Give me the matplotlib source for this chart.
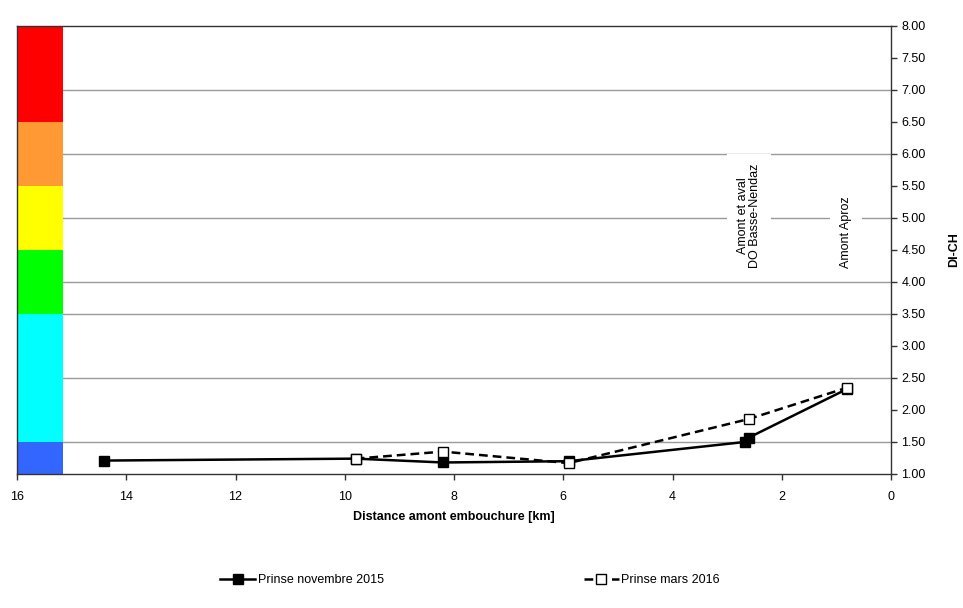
import matplotlib
matplotlib.use("Agg")
import matplotlib.pyplot as plt
from matplotlib import font_manager

fams = [f.name for f in font_manager.fontManager.ttflist]
base = 'Liberation Sans Narrow' if 'Liberation Sans Narrow' in fams else 'Liberation Sans'
plt.rcParams['font.family'] = [base, 'DejaVu Sans']

# Data
nov_x = [14.4, 9.8, 8.2, 5.9, 2.68, 2.6, 0.8]
nov_y = [1.21, 1.24, 1.18, 1.20, 1.50, 1.57, 2.33]
mar_x = [9.8, 8.2, 5.9, 2.6, 0.8]
mar_y = [1.24, 1.35, 1.17, 1.86, 2.35]
nov_label = 'Prinse novembre 2015'
mar_label = 'Prinse mars 2016'

band_bounds = [1.0, 1.5, 3.5, 4.5, 5.5, 6.5, 8.0]
band_colors = ['#3366ff', '#00ffff', '#00ff00', '#ffff00', '#ff9933', '#ff0000']
grid_levels = [1.5, 2.5, 3.5, 4.0, 5.0, 6.0, 7.0]
y_ticks = [1.0, 1.5, 2.0, 2.5, 3.0, 3.5, 4.0, 4.5, 5.0, 5.5, 6.0, 6.5, 7.0, 7.5, 8.0]
x_ticks = [16, 14, 12, 10, 8, 6, 4, 2, 0]
annotations = [(2.6, 'Amont et aval\nDO Basse-Nendaz'), (0.82, 'Amont Aproz')]

fig = plt.figure(figsize=(9.63, 6.08), dpi=100)
ax = fig.add_axes([17/963, 1 - 474/608, (891-17)/963, (474-26)/608])
ax.set_xlim(16, 0)
ax.set_ylim(1, 8)

for lv in grid_levels:
    ax.axhline(lv, color='#999999', lw=1.0, zorder=1)

for i, c in enumerate(band_colors):
    ax.fill_between([16, 15.15], band_bounds[i], band_bounds[i+1], color=c, lw=0, zorder=2)

for xv, txt in annotations:
    ax.text(xv, 4.22, txt, rotation=90, ha='center', va='bottom', fontsize=9,
            linespacing=1.0, zorder=3,
            bbox=dict(facecolor='white', edgecolor='none', pad=7))

ax.plot(nov_x, nov_y, color='black', lw=1.8, marker='s', ms=7, mfc='black', mec='black',
        zorder=4, label=nov_label)
ax.plot(mar_x, mar_y, color='black', lw=1.8, ls=(0, (3.5, 2)), marker='s', ms=7, mfc='white',
        mec='black', zorder=5, label=mar_label)

ax.yaxis.tick_right()
ax.yaxis.set_label_position('right')
ax.set_yticks(y_ticks)
ax.set_yticklabels([f'{v:.2f}' for v in y_ticks], fontsize=9)
ax.set_xticks(x_ticks)
ax.set_xticklabels([str(v) for v in x_ticks], fontsize=9)
ax.tick_params(axis='both', direction='out', length=4, width=1, color='#333333')
ax.tick_params(axis='x', pad=8)
ax.set_ylabel('DI-CH', fontsize=9, fontweight='bold', labelpad=16)
ax.set_xlabel('Distance amont embouchure [km]', fontsize=9, fontweight='bold', labelpad=6)
for s in ax.spines.values():
    s.set_color('#333333')
    s.set_linewidth(1.0)

fig.legend(loc='center', bbox_to_anchor=(470/963, 1 - 580/608), ncol=2, frameon=False,
           fontsize=9, handlelength=2.8, columnspacing=16, handletextpad=0.2)

fig.savefig('out.png', dpi=100)
